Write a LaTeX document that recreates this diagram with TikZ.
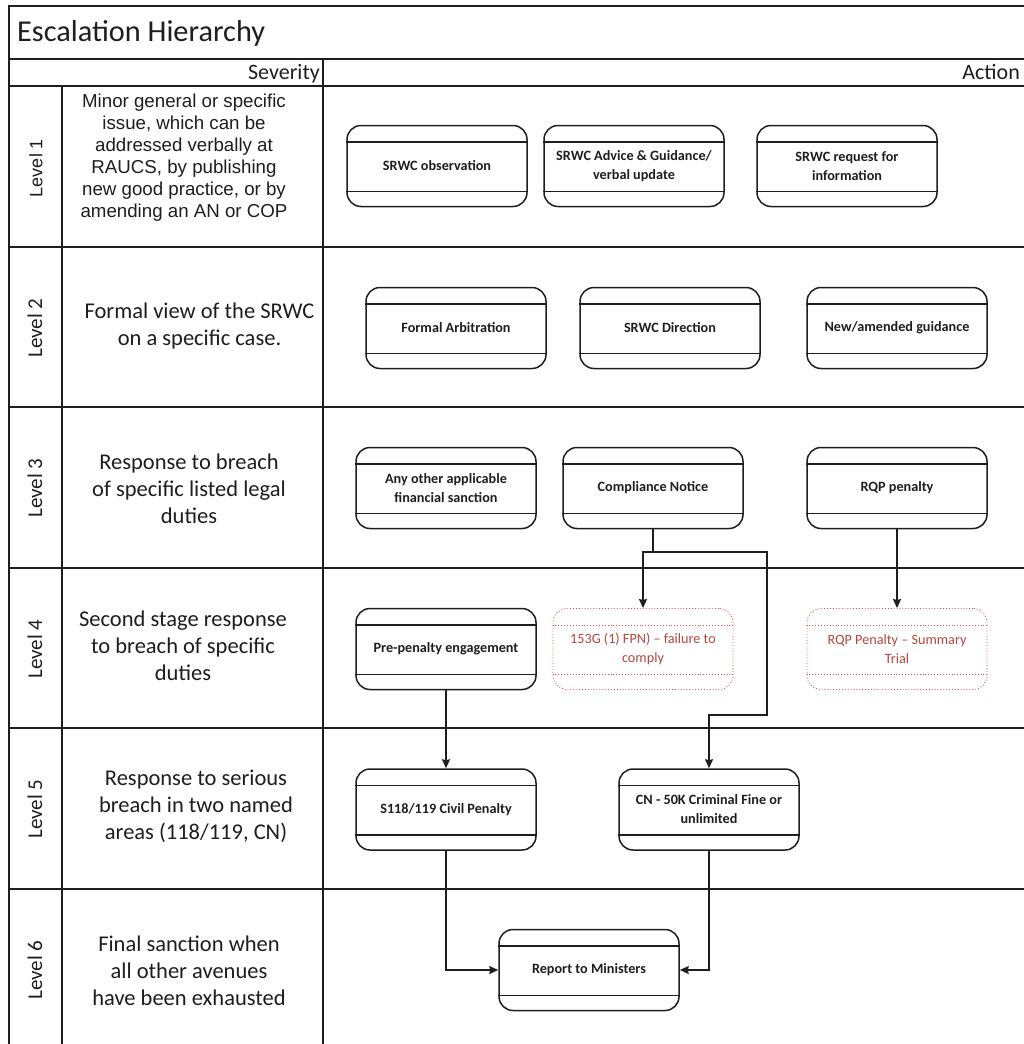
\documentclass[tikz,border=0pt]{standalone}
\usepackage{fontspec}
\setmainfont{Carlito}
\newfontfamily\arialfont{Liberation Sans}
\usetikzlibrary{arrows.meta}

\definecolor{ink}{HTML}{1E1E1E}
\definecolor{penred}{HTML}{D8504A}
\definecolor{pentext}{HTML}{B5473C}

\tikzset{
  frame/.style={line width=2pt, draw=ink},
  txt/.style={inner sep=0pt, text=ink},
  sevtxt/.style={inner sep=0pt, text=ink, align=center, font=\fontsize{22.5}{27}\selectfont},
  lvl/.style={inner sep=0pt, text=ink, rotate=90, font=\fontsize{21}{24}\selectfont},
  actbox/.style={draw=ink, line width=1.5pt, rounded corners=14pt, minimum width=180pt,
    minimum height=81pt, align=center, text=ink, inner sep=2pt,
    font=\fontsize{14.2}{19}\selectfont\bfseries},
  penbox/.style={draw=penred, line width=0.9pt, dotted, rounded corners=14pt, minimum width=180pt,
    minimum height=81pt, align=center, text=pentext, inner sep=2pt,
    font=\fontsize{14.2}{19}\selectfont},
  conn/.style={draw=ink, line width=1.5pt, -{Stealth[length=9pt,width=8pt,inset=1pt]}},
  plain/.style={draw=ink, line width=1.5pt},
}

\begin{document}
\begin{tikzpicture}[x=1pt, y=-1pt]
\useasboundingbox (0,0) rectangle (1023,1044);

% table frame
\draw[frame] (9,1046) -- (9,6) -- (1025,6);
\draw[frame] (9,59) -- (1025,59);
\draw[frame] (9,86) -- (1025,86);
\foreach \yy in {247,407,568,728,889}
  \draw[frame] (9,\yy) -- (1025,\yy);
\draw[frame] (62,86) -- (62,1046);
\draw[frame] (323,59) -- (323,1046);

% headings
\node[txt, anchor=base west, font=\fontsize{30.3}{35}\selectfont] (title) at (17,41) {Escalation Hierarchy};
\node[txt, anchor=base east, font=\fontsize{22}{26}\selectfont] (sev) at (320,79) {Severity};
\node[txt, anchor=base east, font=\fontsize{22}{26}\selectfont] (act) at (1020,79) {Action};

% level labels
\node[lvl, font=\arialfont\fontsize{18}{22}\selectfont] (l1) at (36,168) {Level 1};
\node[lvl] (l2) at (35,328) {Level 2};
\node[lvl] (l3) at (35,488) {Level 3};
\node[lvl] (l4) at (35,649) {Level 4};
\node[lvl] (l5) at (35,809) {Level 5};
\node[lvl] (l6) at (35,970) {Level 6};

% severity descriptions
\node[sevtxt, font=\arialfont\fontsize{18.7}{22}\selectfont] (s1) at (184,158)
  {Minor general or specific\\issue, which can be\\addressed verbally at\\RAUCS, by publishing\\new good practice, or by\\amending an AN or COP};
\node[sevtxt] (s2) at (199.5,326) {Formal view of the SRWC\\on a specific case.};
\node[sevtxt] (s3) at (189,489) {Response to breach\\of specific listed legal\\duties};
\node[sevtxt] (s4) at (183,646) {Second stage response\\to breach of specific\\duties};
\node[sevtxt] (s5) at (196,806) {Response to serious\\breach in two named\\areas (118/119, CN)};
\node[sevtxt] (s6) at (189,971) {Final sanction when\\all other avenues\\have been exhausted};

% action boxes
\node[actbox] (obs)   at (437,166) {SRWC observation};
\node[actbox] (adv)   at (634,166) {SRWC Advice \& Guidance/\\verbal update};
\node[actbox] (req)   at (847,166) {SRWC request for\\information};
\node[actbox] (arb)   at (456,328) {Formal Arbitration};
\node[actbox] (dir)   at (670,328) {SRWC Direction};
\node[actbox] (guid)  at (897,328) {New/amended guidance};
\node[actbox] (other) at (446,488) {Any other applicable\\financial sanction};
\node[actbox] (comp)  at (653,488) {Compliance Notice};
\node[actbox] (rqp)   at (897,488) {RQP penalty};
\node[actbox] (pre)   at (446,649) {Pre-penalty engagement};
\node[penbox] (fpn)   at (643,649) {153G (1) FPN) – failure to\\comply};
\node[penbox] (trial) at (897,649) {RQP Penalty – Summary\\Trial};
\node[actbox] (civ)   at (446,809.5) {S118/119 Civil Penalty};
\node[actbox] (crim)  at (709,809.5) {CN - 50K Criminal Fine or\\unlimited};
\node[actbox] (rep)   at (589,970) {Report to Ministers};

% header and footer bands inside the boxes
\foreach \n in {obs,adv,req,arb,dir,guid,other,comp,rqp,pre,civ,crim,rep} {
  \draw[plain] ([yshift=-17pt]\n.north west) -- ([yshift=-17pt]\n.north east);
  \draw[plain] ([yshift=16pt]\n.south west) -- ([yshift=16pt]\n.south east);
}
\foreach \n in {fpn,trial} {
  \draw[draw=penred, line width=0.9pt, dotted] ([yshift=-17pt]\n.north west) -- ([yshift=-17pt]\n.north east);
  \draw[draw=penred, line width=0.9pt, dotted] ([yshift=16pt]\n.south west) -- ([yshift=16pt]\n.south east);
}

% connectors
\coordinate (split) at (653,552);
\coordinate (bend) at (767,715);
\draw[plain] (comp.south) -- (split);
\draw[conn] (split) -| (fpn.north);
\draw[conn] (split) -| (bend) -| (crim.north);
\draw[conn] (rqp.south) -- (trial.north);
\draw[conn] (pre.south) -- (civ.north);
\draw[conn] (civ.south) |- (rep.west);
\draw[conn] (crim.south) |- (rep.east);
\end{tikzpicture}
\end{document}
